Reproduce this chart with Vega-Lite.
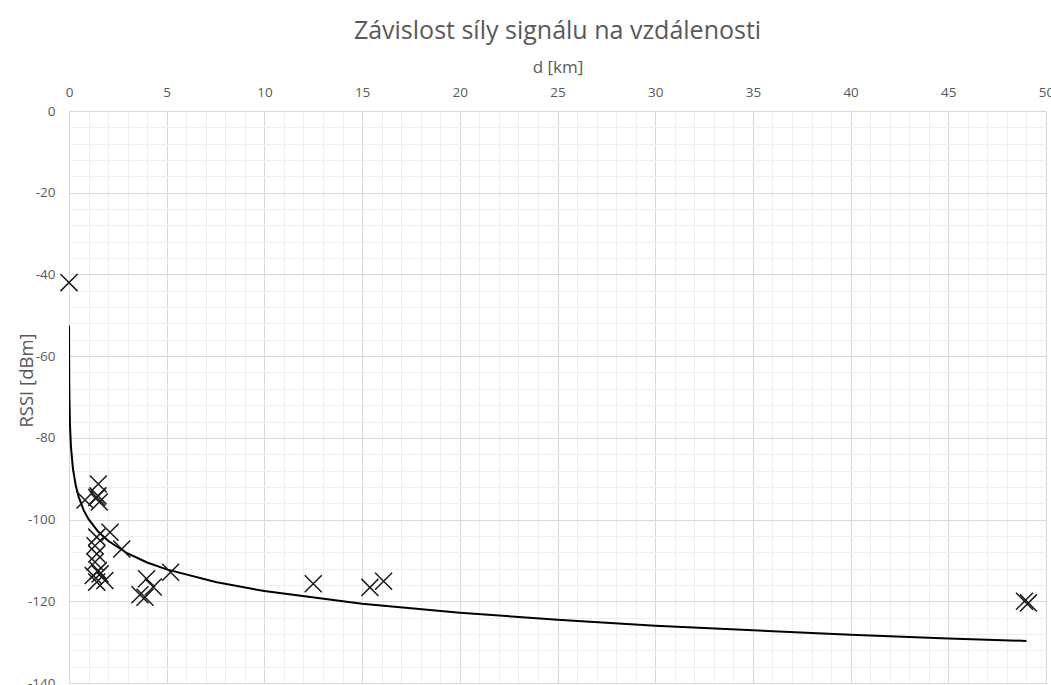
{
  "$schema": "https://vega.github.io/schema/vega-lite/v6.json",
  "width": 977,
  "height": 572,
  "autosize": "none",
  "padding": {"left": 69, "top": 111, "right": 5, "bottom": 2},
  "background": "white",
  "title": {"text": "Závislost síly signálu na vzdálenosti", "font": "Open Sans", "fontSize": 25, "fontWeight": "normal", "color": "#595959", "anchor": "middle", "offset": 14},
  "config": {"view": {"stroke": null}},
  "datasets": {
    "points": [
      {"d": 0, "rssi": -42},
      {"d": 0.82, "rssi": -95.2},
      {"d": 1.42, "rssi": -94.6},
      {"d": 1.5, "rssi": -91.3},
      {"d": 1.55, "rssi": -95.7},
      {"d": 1.48, "rssi": -94.2},
      {"d": 2.1, "rssi": -103.1},
      {"d": 1.42, "rssi": -104.3},
      {"d": 1.33, "rssi": -106.4},
      {"d": 2.7, "rssi": -107.2},
      {"d": 1.42, "rssi": -108.4},
      {"d": 1.33, "rssi": -110.4},
      {"d": 1.5, "rssi": -112.5},
      {"d": 1.59, "rssi": -113.3},
      {"d": 1.24, "rssi": -113.7},
      {"d": 1.84, "rssi": -114.9},
      {"d": 1.42, "rssi": -115.3},
      {"d": 3.97, "rssi": -114.5},
      {"d": 4.31, "rssi": -116.5},
      {"d": 5.2, "rssi": -112.9},
      {"d": 3.63, "rssi": -118.4},
      {"d": 3.89, "rssi": -119},
      {"d": 12.5, "rssi": -115.7},
      {"d": 15.4, "rssi": -116.6},
      {"d": 16.1, "rssi": -115.1},
      {"d": 48.9, "rssi": -120},
      {"d": 49.1, "rssi": -120.4}
    ],
    "trend": [
      {"d": 0.002, "rssi": -52.5},
      {"d": 0.005, "rssi": -59.2},
      {"d": 0.01, "rssi": -64.5},
      {"d": 0.02, "rssi": -69.9},
      {"d": 0.05, "rssi": -76.9},
      {"d": 0.1, "rssi": -82.2},
      {"d": 0.2, "rssi": -87.5},
      {"d": 0.35, "rssi": -91.8},
      {"d": 0.5, "rssi": -94.5},
      {"d": 0.75, "rssi": -97.7},
      {"d": 1, "rssi": -99.9},
      {"d": 1.5, "rssi": -103.0},
      {"d": 2, "rssi": -105.2},
      {"d": 3, "rssi": -108.3},
      {"d": 4, "rssi": -110.5},
      {"d": 5, "rssi": -112.2},
      {"d": 7.5, "rssi": -115.3},
      {"d": 10, "rssi": -117.5},
      {"d": 15, "rssi": -120.6},
      {"d": 20, "rssi": -122.8},
      {"d": 25, "rssi": -124.5},
      {"d": 30, "rssi": -126.0},
      {"d": 35, "rssi": -127.1},
      {"d": 40, "rssi": -128.2},
      {"d": 45, "rssi": -129.1},
      {"d": 49, "rssi": -129.7}
    ]
  },
  "encoding": {
    "x": {
      "field": "d", "type": "quantitative",
      "scale": {"domain": [0, 50], "nice": false, "zero": false},
      "axis": {
        "orient": "top",
        "title": "d [km]",
        "values": [0,1,2,3,4,5,6,7,8,9,10,11,12,13,14,15,16,17,18,19,20,21,22,23,24,25,26,27,28,29,30,31,32,33,34,35,36,37,38,39,40,41,42,43,44,45,46,47,48,49,50],
        "labelExpr": "datum.value % 5 === 0 ? '' + datum.value : ''",
        "gridColor": {"condition": {"test": "datum.value % 5 === 0", "value": "#d9d9d9"}, "value": "#efefef"},
        "gridWidth": 1,
        "ticks": false,
        "domain": false,
        "labelFont": "Open Sans",
        "labelFontSize": 13.5,
        "labelColor": "#595959",
        "labelPadding": 12,
        "labelFlush": false,
        "titleFont": "Open Sans",
        "titleFontSize": 17,
        "titleFontWeight": "normal",
        "titleColor": "#595959",
        "titlePadding": 9
      }
    },
    "y": {
      "field": "rssi", "type": "quantitative",
      "scale": {"domain": [-140, 0], "nice": false, "zero": false},
      "axis": {
        "title": "RSSI [dBm]",
        "values": [0,-4,-8,-12,-16,-20,-24,-28,-32,-36,-40,-44,-48,-52,-56,-60,-64,-68,-72,-76,-80,-84,-88,-92,-96,-100,-104,-108,-112,-116,-120,-124,-128,-132,-136,-140],
        "labelExpr": "datum.value % 20 === 0 ? '' + datum.value : ''",
        "gridColor": {"condition": {"test": "datum.value % 20 === 0", "value": "#d9d9d9"}, "value": "#efefef"},
        "ticks": false,
        "domain": false,
        "labelFont": "Open Sans",
        "labelFontSize": 13.5,
        "labelColor": "#595959",
        "labelPadding": 14,
        "labelFlush": false,
        "titleFont": "Open Sans",
        "titleFontSize": 18.5,
        "titleFontWeight": "normal",
        "titleColor": "#595959",
        "titleX": -43,
        "titleY": 269,
        "titleBaseline": "middle"
      }
    }
  },
  "layer": [
    {
      "data": {"name": "trend"},
      "mark": {"type": "line", "color": "#000000", "strokeWidth": 2, "clip": true}
    },
    {
      "data": {"name": "points"},
      "mark": {"type": "point", "shape": "M-1,-1L1,1M1,-1L-1,1", "filled": false, "stroke": "#1a1a1a", "strokeWidth": 1.5, "size": 290, "opacity": 1}
    }
  ]
}
